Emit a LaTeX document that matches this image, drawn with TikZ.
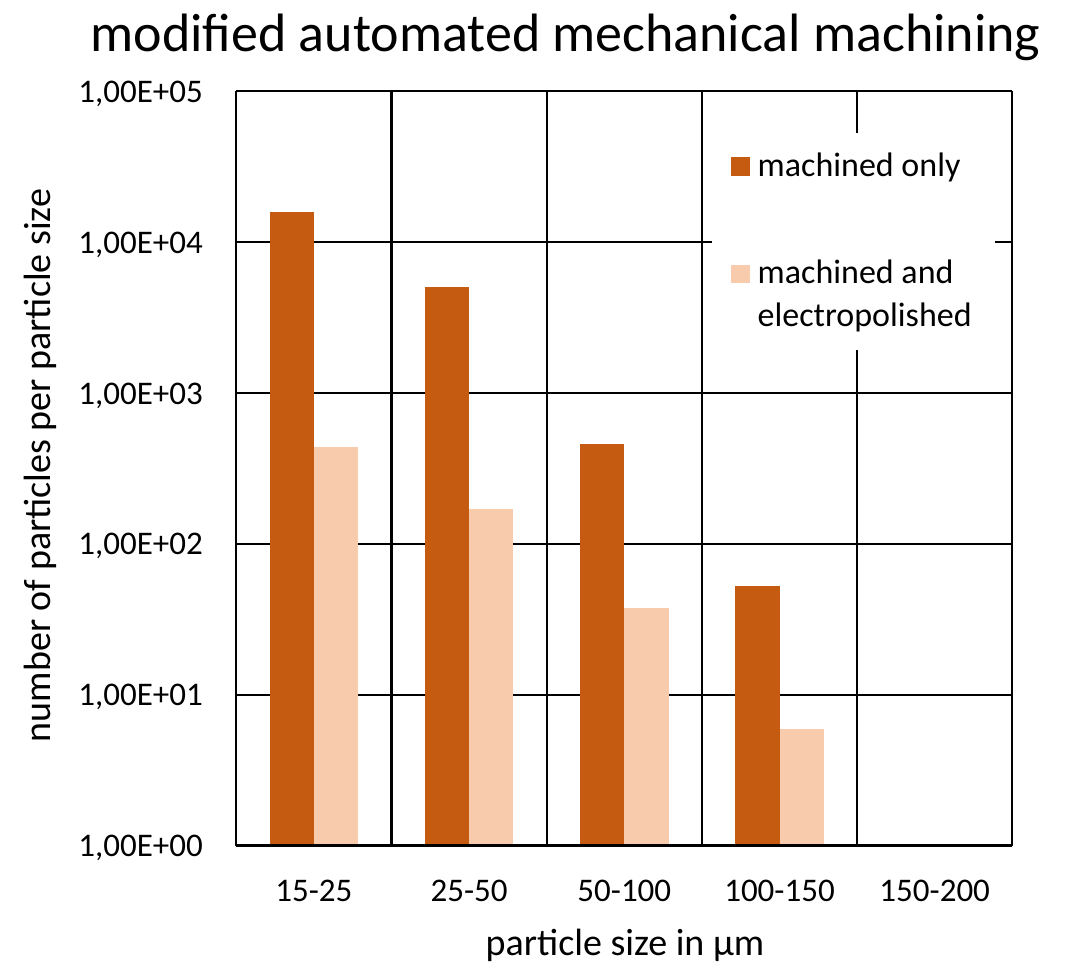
\documentclass[tikz,border=0pt]{standalone}
\usepackage{fontspec}
\setmainfont{Carlito}
\definecolor{barDark}{HTML}{C55A11}
\definecolor{barLight}{HTML}{F8CBAD}
\begin{document}
\begin{tikzpicture}[x=1pt,y=-1pt,
  gridline/.style={line width=2.1pt, black},
  ticklabel/.style={font=\fontsize{33}{40}\selectfont, inner sep=0pt},
  legendtext/.style={font=\fontsize{34}{41}\selectfont, inner sep=0pt, anchor=base west},
  axistitle/.style={font=\fontsize{38}{46}\selectfont, inner sep=0pt, anchor=base},
  titletext/.style={font=\fontsize{54}{64}\selectfont, inner sep=0pt, anchor=base}]
\useasboundingbox (0,0) rectangle (1078,967);
\fill[white] (0,0) rectangle (1078,967);

% grid
\foreach \k in {1,...,5} {
  \draw[gridline] (236.3,{845.5-150.9*\k}) -- (1012.3,{845.5-150.9*\k});
}
\foreach \i in {0,...,5} {
  \draw[gridline] ({236.3+155.2*\i},91) -- ({236.3+155.2*\i},845.5);
}
\draw[gridline] (236.3,845.5) -- (1012.3,845.5);

% bars
\foreach \i/\d/\l in {0/212.3/447.3, 1/286.7/508.7, 2/444.3/607.7, 3/585.7/729} {
  \pgfmathsetmacro\L{236.3+155.2*\i}
  \fill[barDark] ({\L+33.5},844.4) rectangle ({\L+77.7},\d);
  \fill[barLight] ({\L+77.7},844.4) rectangle ({\L+121.8},\l);
}

% legend
\fill[white] (711.7,132.7) rectangle (995,350);
\fill[barDark] (730.7,157.3) rectangle (750,175.7);
\fill[barLight] (730.7,265) rectangle (750,283.3);
\node[legendtext] (leg1) at (757.5,176.5) {machined only};
\node[legendtext] (leg2a) at (757.5,283.3) {machined and};
\node[legendtext] (leg2b) at (757.5,326.7) {electropolished};

% y tick labels
\foreach \k in {0,...,5} {
  \node[ticklabel, anchor=base east] (ytick\k) at (203,{845.5-150.9*\k+11.2}) {1,00E+0\k};
}

% category labels
\foreach \i/\t in {0/15-25, 1/25-50, 2/50-100, 3/100-150, 4/150-200} {
  \node[ticklabel, anchor=base] (cat\i) at ({236.3+155.2*\i+77.6},901.7) {\t};
}

% titles
\node[titletext] (title) at (565.5,51) {modified automated mechanical machining};
\node[axistitle] (xtitle) at (625,955) {particle size in µm};
\node[axistitle, rotate=90] (ytitle) at (50,465.5) {number of particles per particle size};
\end{tikzpicture}
\end{document}
